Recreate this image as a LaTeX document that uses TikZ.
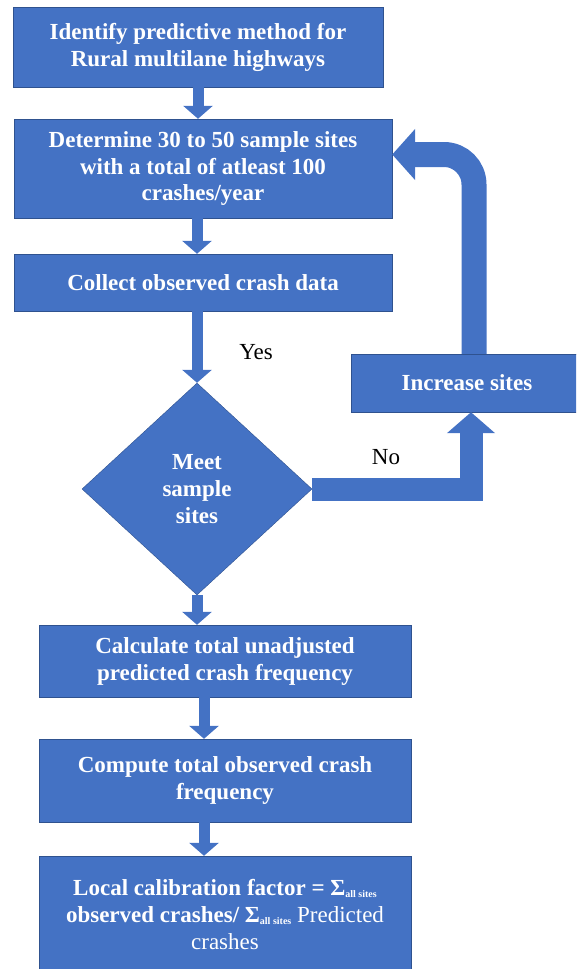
\documentclass[tikz,border=0pt]{standalone}
\usepackage{fontspec}
\setmainfont{Liberation Serif}
\usetikzlibrary{positioning,shapes,arrows.meta}
\definecolor{boxblue}{HTML}{4472C4}
\definecolor{boxline}{HTML}{2F528F}
\newcommand{\sumall}{Σ\raisebox{-2pt}{\fontsize{10}{10}\selectfont all sites}}
\tikzset {
    step box/.style={
        fill=boxblue,
        draw=boxline,
        thin,
        text=white,
        font=\fontsize{23}{27}\selectfont\bfseries,
        rectangle, % Set the shape as a rectangle
        inner sep=0pt,
        align=center,
    },
    decision box/.style={
        fill=boxblue,
        draw=boxline,
        thin,
        text=white,
        font=\fontsize{23}{27}\selectfont\bfseries,
        diamond, % Set the shape as a diamond
        inner sep=0pt,
        align=center,
    },
    flow arrow/.style={
        draw=boxblue,
        line width=11pt,
        -{Triangle[width=29pt,length=13pt]},
    },
    no arrow/.style={
        draw=boxblue,
        line width=23pt,
        -{Triangle[width=47pt,length=21pt]},
    },
    back arrow/.style={
        draw=boxblue,
        line width=25pt,
        rounded corners=30pt,
        -{Triangle[width=50pt,length=23pt]},
    },
    answer/.style={
        text=black,
        font=\fontsize{23}{27}\selectfont,
    },
}
\begin{document}
\begin{tikzpicture}[x=1pt, y=-1pt]
        \useasboundingbox (0,0) rectangle (576,969);
        \clip (0,0) rectangle (576,969);

        \node[step box, minimum width=370pt, minimum height=80pt] (ident) at (198,47)
            {Identify predictive method for\\Rural multilane highways};
        \node[step box, minimum width=378pt, minimum height=99pt] (determ) at (203,168.5)
            {Determine 30 to 50 sample sites\\with a total of atleast 100\\crashes/year};
        \node[step box, minimum width=378pt, minimum height=57pt] (collect) at (203,282.5)
            {Collect observed crash data};
        \node[decision box, minimum width=230pt, minimum height=212pt] (meet) at (197,489)
            {Meet\\sample\\sites};
        \node[step box, minimum width=232pt, minimum height=58pt] (incr) at (467,383)
            {Increase sites};
        \node[step box, minimum width=372pt, minimum height=72pt] (calc) at (225,661)
            {Calculate total unadjusted\\predicted crash frequency};
        \node[step box, minimum width=372pt, minimum height=83pt] (compute) at (225,780.5)
            {Compute total observed crash\\frequency};
        \node[step box, minimum width=372pt, minimum height=118pt] (local) at (225,915)
            {Local calibration factor = \sumall\\observed crashes/ \sumall{} {\mdseries Predicted}\\{\mdseries crashes}};

        \node[answer] (yes) at (256,352) {Yes};
        \node[answer] (no) at (386,457) {No};

        % connectors
        \draw[flow arrow] (ident.south) -- (ident.south |- determ.north);
        \draw[flow arrow] (determ.south -| meet.north) -- (collect.north -| meet.north);
        \draw[flow arrow] (collect.south -| meet.north) -- (meet.north);
        \draw[flow arrow] (meet.south) -- (meet.south |- calc.north);
        \draw[flow arrow] ([xshift=-21pt]calc.south) -- ([xshift=-21pt]compute.north);
        \draw[flow arrow] ([xshift=-21pt]compute.south) -- ([xshift=-21pt]local.north);
        \draw[no arrow] (meet.east) -| ([xshift=4pt]incr.south);
        \draw[back arrow] ([xshift=7pt]incr.north) |- ([yshift=14pt]determ.east);

    \end{tikzpicture}
\end{document}
